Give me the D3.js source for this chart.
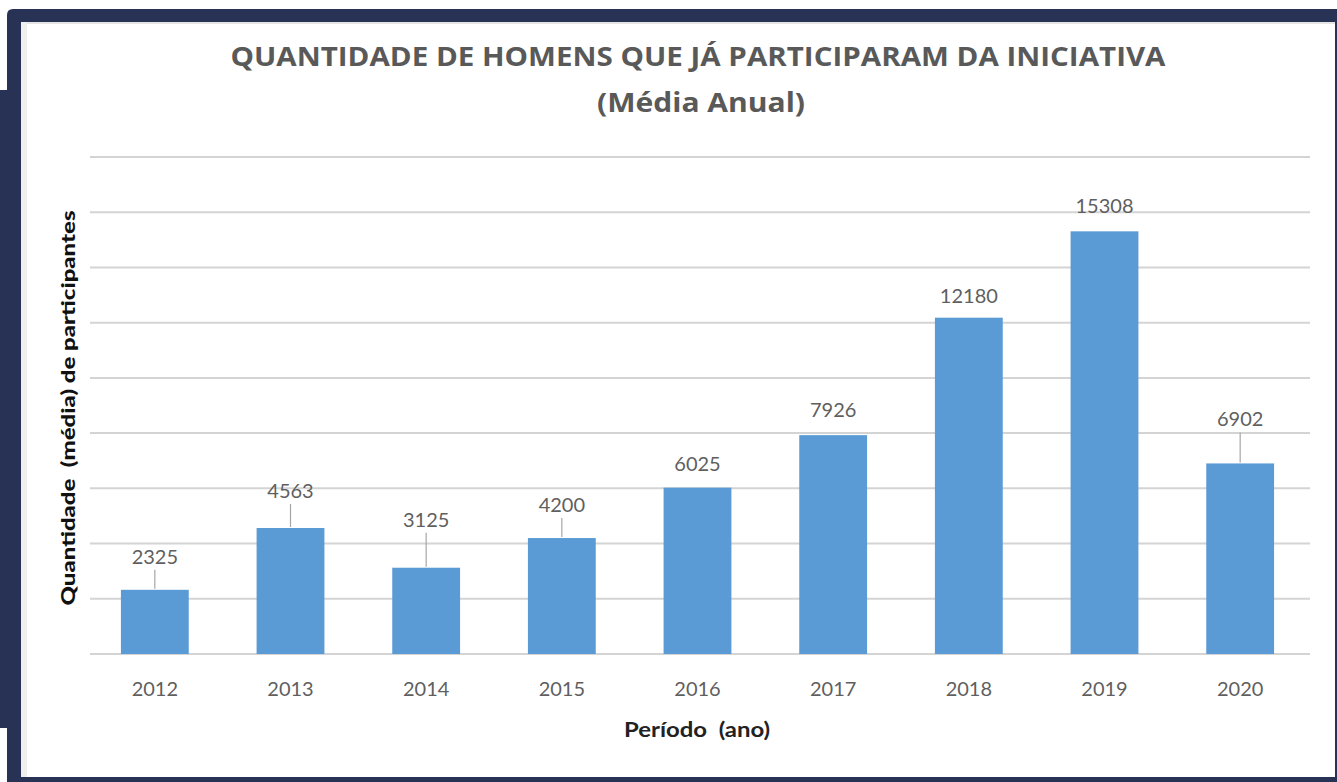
<!DOCTYPE html>
<html lang="pt">
<head>
<meta charset="utf-8">
<script src="https://cdn.jsdelivr.net/npm/d3@7"></script>
<style>
  html, body { margin: 0; padding: 0; background: #ffffff; }
  svg { display: block; }
</style>
</head>
<body>
<svg id="chart" width="1337" height="782"></svg>
<script>
// Participantes por ano (média anual)
const anos = ["2012", "2013", "2014", "2015", "2016", "2017", "2018", "2019", "2020"];
const participantes = [2325, 4563, 3125, 4200, 6025, 7926, 12180, 15308, 6902];
const gradeValores = [0, 2000, 4000, 6000, 8000, 10000, 12000, 14000, 16000, 18000];

const titulo1 = "QUANTIDADE DE HOMENS QUE JÁ PARTICIPARAM DA INICIATIVA";
const titulo2 = "(Média Anual)";
const tituloY = "Quantidade  (média) de participantes";
const tituloX = "Período  (ano)";

// distância (px) entre o topo da barra e a linha de base do rótulo
const elevacaoRotulo = [26, 30, 41, 26, 17, 18, 15, 18, 37];

const svg = d3.select("#chart");
const W = 1337, H = 782;
const navy = "#283255";

// moldura escura
svg.append("rect").attr("x", 0).attr("y", 0).attr("width", W).attr("height", H).attr("fill", "#ffffff");
svg.append("path")
  .attr("d", `M7,${H} L7,15 Q7,9 13,9 L${W},9 L${W},${H} Z`)
  .attr("fill", navy);
svg.append("rect").attr("x", 0).attr("y", 90).attr("width", 9).attr("height", 638).attr("fill", navy);

// painel branco do gráfico
svg.append("rect").attr("x", 21).attr("y", 22).attr("width", 1314).attr("height", 755).attr("fill", "#ffffff");
svg.append("line").attr("x1", 21).attr("x2", 1335).attr("y1", 23).attr("y2", 23)
  .attr("stroke", "#e4e4e4").attr("stroke-width", 2);
svg.append("line").attr("x1", 24).attr("x2", 24).attr("y1", 22).attr("y2", 777)
  .attr("stroke", "#efefef").attr("stroke-width", 6);

const x = d3.scaleBand().domain(anos).range([87, 1308]).paddingInner(0.5).paddingOuter(0.25);
const y = d3.scaleLinear().domain([0, 18000]).range([654, 157]);

// linhas de grade
svg.append("g").selectAll("line").data(gradeValores).join("line")
  .attr("x1", 90).attr("x2", 1310)
  .attr("y1", d => y(d)).attr("y2", d => y(d))
  .attr("stroke", "#d4d4d4").attr("stroke-width", 2);

// barras
svg.append("g").selectAll("rect").data(participantes).join("rect")
  .attr("x", (d, i) => x(anos[i]))
  .attr("y", d => y(d))
  .attr("width", x.bandwidth())
  .attr("height", d => y(0) - y(d))
  .attr("fill", "#5b9bd5");

// linhas de chamada dos rótulos mais afastados
svg.append("g").selectAll("line")
  .data(participantes.map((v, i) => ({ v, i })).filter(d => elevacaoRotulo[d.i] > 24))
  .join("line")
  .attr("x1", d => x(anos[d.i]) + x.bandwidth() / 2)
  .attr("x2", d => x(anos[d.i]) + x.bandwidth() / 2)
  .attr("y1", d => y(d.v) - 1)
  .attr("y2", d => y(d.v) - elevacaoRotulo[d.i] + 6)
  .attr("stroke", "#a6a6a6").attr("stroke-width", 1.2);

// rótulos de valor
svg.append("g").selectAll("text").data(participantes).join("text")
  .attr("x", (d, i) => x(anos[i]) + x.bandwidth() / 2)
  .attr("y", (d, i) => y(d) - elevacaoRotulo[i])
  .attr("text-anchor", "middle")
  .attr("font-family", "Lato, 'Noto Sans', sans-serif")
  .attr("font-size", 20)
  .attr("fill", "#5f5f5f")
  .text(d => d);

// eixo x
const eixoX = svg.append("g").attr("transform", `translate(0,${y(0)})`)
  .call(d3.axisBottom(x).tickSize(0).tickPadding(28));
eixoX.select(".domain").remove();
eixoX.selectAll("text")
  .attr("font-family", "Lato, 'Noto Sans', sans-serif")
  .attr("font-size", 20)
  .attr("fill", "#5f5f5f");

// títulos
svg.append("text")
  .attr("x", 698).attr("y", 66)
  .attr("text-anchor", "middle")
  .attr("font-family", "'Open Sans', 'Noto Sans', sans-serif")
  .attr("font-weight", "bold")
  .attr("font-size", 26)
  .attr("fill", "#595959")
  .attr("textLength", 935).attr("lengthAdjust", "spacingAndGlyphs")
  .text(titulo1);
svg.append("text")
  .attr("x", 701).attr("y", 112)
  .attr("text-anchor", "middle")
  .attr("font-family", "'Open Sans', 'Noto Sans', sans-serif")
  .attr("font-weight", "bold")
  .attr("font-size", 26)
  .attr("fill", "#595959")
  .attr("textLength", 208).attr("lengthAdjust", "spacingAndGlyphs")
  .text(titulo2);

svg.append("text")
  .attr("transform", "translate(75,408) rotate(-90)")
  .attr("text-anchor", "middle")
  .attr("font-family", "Lato, 'Noto Sans', sans-serif")
  .attr("font-weight", "900")
  .attr("font-size", 19)
  .attr("fill", "#111111")
  .attr("textLength", 395).attr("lengthAdjust", "spacingAndGlyphs")
  .style("white-space", "pre")
  .text(tituloY);

svg.append("text")
  .attr("x", 697).attr("y", 737)
  .attr("text-anchor", "middle")
  .attr("font-family", "Lato, 'Noto Sans', sans-serif")
  .attr("font-weight", "bold")
  .attr("font-size", 21)
  .attr("fill", "#222222")
  .attr("textLength", 146).attr("lengthAdjust", "spacingAndGlyphs")
  .style("white-space", "pre")
  .text(tituloX);
</script>
</body>
</html>
